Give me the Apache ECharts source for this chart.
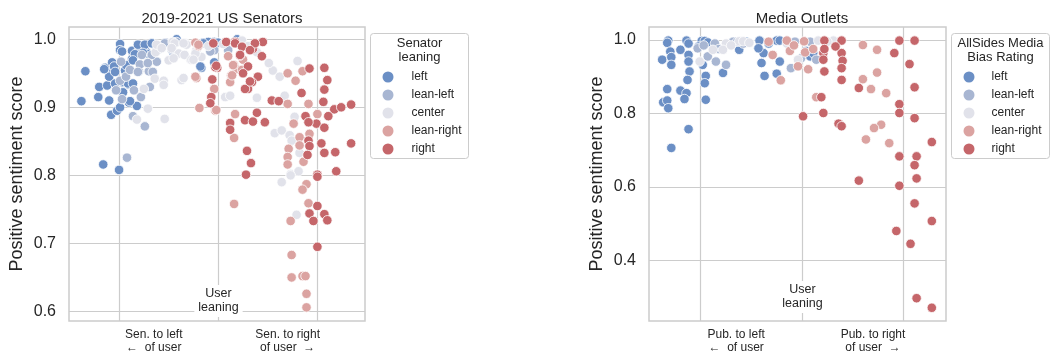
<!DOCTYPE html>
<html>
<head>
<meta charset="utf-8">
<script src="https://cdn.jsdelivr.net/npm/echarts@6/dist/echarts.min.js"></script>
<style>
  html, body { margin: 0; padding: 0; background: #fff; }
  #chart { width: 1052px; height: 356px; }
</style>
</head>
<body>
<div id="chart"></div>
<script>
// categories (leaning) and their colours
const categories = ['left', 'lean-left', 'center', 'lean-right', 'right'];
const colors = ['#6b8fc5', '#a8b6d2', '#e1e2ea', '#dba3a1', '#c5666a'];

// x = leaning offset vs user (jittered), y = positive sentiment score
const senLeft = [[-1.34,0.953],[-1.38,0.909],[-1.21,0.915],[-1.20,0.930],[-1.12,0.932],[-1.10,0.910],[-1.08,0.889],
  [-1.02,0.895],[-0.99,0.900],[-1.14,0.958],[-1.07,0.966],[-1.06,0.952],[-0.99,0.993],[-0.99,0.984],[-0.87,0.983],
  [-0.87,0.971],[-0.94,0.954],[-0.97,0.937],[-0.90,0.933],[-0.96,0.922],[-0.90,0.907],[-0.82,0.902],[-1.16,0.816],
  [-1.00,0.808],[-0.79,0.991],[-0.73,0.991],[-0.80,0.984],[-0.71,0.979],[-0.72,0.992],[-0.77,0.989],[-0.80,0.982],
  [-0.66,0.993],[-0.62,0.984],[-0.45,0.979],[-0.42,1.000],[-0.17,0.958],[-0.15,0.995],[-0.10,0.996],[-0.04,0.996],
  [-0.01,0.995],[-0.18,0.960],[-0.04,0.966],[0.19,1.000],[-1.04,0.935],[-0.93,0.962],[-1.10,0.945],[-0.84,0.978],
  [-0.06,0.992],[-1.15,0.956],[-1.05,0.960],[-0.89,0.935],[-0.89,0.909],[-0.81,0.992],[-0.74,0.992],[-0.67,0.994],
  [-0.86,0.969],[-0.76,0.980],[-0.97,0.982],[-0.15,0.994],[0.00,0.995],[-0.91,0.935],[-0.86,0.935],[-1.04,0.952]];
const senLeanLeft = [[-0.92,0.826],[-0.74,0.872],[-0.86,0.887],[-0.97,0.912],[-0.78,0.915],[-0.69,0.930],[-0.70,0.953],
  [-0.80,0.953],[-0.99,0.939],[-0.98,0.967],[-0.79,0.963],[-0.53,0.995],[-0.54,0.994],[-0.62,0.967],[-0.66,0.952],
  [-0.04,0.984],[0.10,0.984],[-0.93,0.945],[-0.85,0.925],[-0.60,0.985],[-1.03,0.925],[-0.47,0.985],[-0.77,0.977],
  [-0.67,0.977],[-0.42,0.996],[-0.08,0.982],[-0.89,0.955],[-0.81,0.952],[-0.71,0.965]];
const senCenter = [[-0.54,0.883],[-0.82,0.882],[-0.71,0.898],[-0.64,0.942],[-0.55,0.939],[-0.37,0.940],[-0.50,0.969],
  [-0.63,0.981],[-0.46,0.996],[-0.33,0.994],[-0.28,0.970],[-0.17,0.974],[-0.40,0.979],[-0.75,0.927],[-0.55,0.933],
  [-0.44,0.994],[-0.32,0.992],[-0.34,0.977],[-0.22,0.984],[-0.27,0.970],[0.24,0.998],[0.07,0.915],[0.12,0.917],
  [0.39,0.914],[0.55,0.954],[0.62,0.945],[0.51,0.965],[0.80,0.968],[0.57,0.862],[0.64,0.866],[0.72,0.859],
  [0.77,0.886],[0.74,0.851],[0.82,0.833],[0.39,0.981],[0.67,0.917],[0.73,0.802],[0.81,0.806],[0.64,0.790],
  [0.73,0.800],[0.79,0.742],[-0.10,0.990],[0.05,0.993],[0.30,0.990],[-0.62,0.992],[-0.57,0.987],[-0.47,0.987],
  [-0.35,0.994],[-0.23,0.979],[-0.45,0.972],[-0.25,0.970],[-0.35,0.943]];
const senLeanRight = [[-0.22,0.943],[-0.19,0.899],[-0.04,0.927],[-0.03,0.895],[-0.23,0.995],[0.16,0.962],[0.13,0.947],
  [0.12,0.937],[0.18,0.956],[-0.02,0.896],[0.17,0.890],[0.16,0.855],[0.70,0.950],[0.78,0.939],[0.85,0.953],
  [0.70,0.905],[0.91,0.905],[0.76,0.876],[0.82,0.856],[1.00,0.890],[0.92,0.861],[0.71,0.839],[0.82,0.844],
  [0.70,0.827],[0.70,0.816],[0.86,0.820],[0.89,0.787],[0.85,0.779],[0.16,0.758],[0.91,0.759],[0.73,0.733],
  [0.74,0.683],[0.74,0.650],[0.85,0.652],[0.88,0.652],[0.89,0.626],[0.89,0.606],[-0.20,0.990],[0.10,0.975],[0.25,0.970],
  [-0.20,0.992],[0.15,0.962],[0.24,0.955],[0.14,0.947],[-0.23,0.945]];
const senRight = [[0.45,0.996],[0.35,0.986],[0.17,0.996],[0.22,0.976],[0.44,0.975],[-0.01,0.958],[-0.06,0.941],
  [-0.07,0.915],[-0.08,0.906],[-0.03,0.959],[0.40,0.945],[0.34,0.937],[0.30,0.927],[0.27,0.927],[0.54,0.910],
  [0.61,0.909],[0.92,0.957],[1.07,0.958],[1.10,0.940],[1.07,0.926],[1.06,0.908],[0.84,0.921],[1.17,0.897],
  [1.24,0.900],[1.34,0.904],[1.11,0.887],[0.88,0.887],[0.99,0.876],[0.91,0.878],[1.07,0.870],[0.12,0.877],
  [0.12,0.867],[0.27,0.881],[0.35,0.879],[0.39,0.892],[0.47,0.878],[0.29,0.836],[0.33,0.818],[0.28,0.801],
  [0.91,0.851],[0.92,0.843],[0.90,0.830],[1.04,0.847],[1.07,0.833],[1.18,0.834],[1.34,0.847],[1.00,0.801],
  [1.19,0.806],[1.00,0.798],[1.00,0.755],[0.92,0.744],[1.07,0.743],[0.96,0.733],[1.10,0.734],[1.00,0.695],
  [0.08,0.996],[0.30,0.960],[0.25,0.950],[-0.05,0.994],[0.17,0.994],[0.24,0.989],[0.37,0.994],[0.22,0.977],
  [0.32,0.984],[-0.02,0.961],[0.32,0.938]];

const medLeft = [[-1.38,0.946],[-1.32,0.998],[-1.33,0.992],[-1.30,0.968],[-1.29,0.953],[-1.29,0.932],[-1.33,0.866],
  [-1.37,0.830],[-1.33,0.835],[-1.32,0.814],[-1.20,0.973],[-1.14,0.998],[-1.12,0.990],[-1.12,0.959],[-1.12,0.941],
  [-1.11,0.914],[-1.13,0.891],[-1.20,0.862],[-1.14,0.855],[-1.16,0.839],[-1.12,0.757],[-1.29,0.706],[-0.99,0.997],
  [-0.96,0.997],[-0.93,0.993],[-1.02,0.982],[-0.98,0.932],[-0.95,0.902],[-0.96,0.882],[-0.95,0.837],[-0.78,0.910],
  [-0.62,0.973],[-0.55,0.995],[-0.42,0.998],[-0.25,0.998],[-0.22,0.998],[-0.40,0.937],[-0.37,0.902],[-0.25,0.908],
  [-0.38,0.964],[-0.22,0.941],[-0.43,0.977],[0.08,0.955],[0.11,0.964],[0.04,0.970],[-0.33,0.990]];
const medLeanLeft = [[-1.03,0.977],[-0.93,0.955],[-0.85,0.941],[-0.75,0.932],[-0.86,0.990],[-0.82,0.975],[-0.68,0.995],
  [-0.64,0.995],[-0.07,0.995],[0.08,0.995],[-0.11,0.923],[-0.01,0.950],[0.14,0.946],[-0.97,0.985],[-0.58,0.990]];
const medCenter = [[-0.75,0.990],[-0.62,0.996],[-0.58,0.996],[-0.52,0.992],[-1.01,0.941],[-0.88,0.973],[-0.78,0.973],
  [0.16,0.998],[0.31,0.998],[-0.04,0.946],[-0.70,0.985],[0.25,0.995],[-0.15,0.990]];
const medLeanRight = [[-0.33,0.995],[-0.15,0.998],[-0.29,0.959],[-0.12,0.970],[-0.21,0.890],[0.03,0.966],[-0.04,0.928],
  [0.06,0.920],[0.11,0.975],[0.14,0.844],[0.60,0.986],[0.74,0.973],[0.60,0.893],[0.68,0.866],[0.74,0.911],
  [0.83,0.855],[0.78,0.769],[0.71,0.760],[0.63,0.729],[0.86,0.719],[0.02,0.996],[-0.08,0.985]];
const medRight = [[0.22,0.998],[0.39,0.998],[0.21,0.964],[0.21,0.946],[0.22,0.914],[0.39,0.964],[0.40,0.943],
  [0.39,0.923],[0.39,0.891],[0.33,0.982],[0.19,0.844],[0.21,0.801],[0.01,0.792],[0.36,0.772],[0.39,0.765],
  [0.56,0.869],[0.96,0.998],[1.11,0.998],[0.91,0.964],[1.06,0.934],[1.11,0.871],[0.96,0.825],[0.96,0.801],
  [1.11,0.787],[1.28,0.722],[0.96,0.683],[1.13,0.683],[1.11,0.659],[1.13,0.623],[0.56,0.617],[0.96,0.603],
  [1.11,0.555],[1.28,0.507],[0.93,0.480],[1.07,0.445],[1.13,0.297],[1.28,0.271],[0.22,0.975]];

// tick labels
const senTickLabels = ['Sen. to left\n\u2190  of user', 'Sen. to right\nof user  \u2192'];
const medTickLabels = ['Pub. to left\n\u2190  of user', 'Pub. to right\nof user  \u2192'];
const senYTicks = [0.6, 0.7, 0.8, 0.9, 1.0];
const medYTicks = [0.4, 0.6, 0.8, 1.0];

const senData = [senLeft, senLeanLeft, senCenter, senLeanRight, senRight];
const medData = [medLeft, medLeanLeft, medCenter, medLeanRight, medRight];

const FONT = '"Liberation Sans", Arial, sans-serif';
const TXT = '#262626';
const GRIDC = '#cccccc';

function xAxis(gridIndex, min, max, labels) {
  return {
    type: 'value', gridIndex, min, max,
    axisLine: { show: false },
    axisTick: { show: false, customValues: [-1, 0, 1] },
    splitLine: { show: true, lineStyle: { color: GRIDC, width: 1.2 } },
    axisLabel: {
      customValues: [-0.65, 0.7],
      formatter: v => (v < 0 ? labels[0] : labels[1]),
      fontFamily: FONT, fontSize: 12, color: TXT, lineHeight: 13, margin: 7
    }
  };
}
function yAxis(gridIndex, min, max, ticks) {
  return {
    type: 'value', gridIndex, min, max,
    name: 'Positive sentiment score', nameLocation: 'middle', nameGap: 43,
    nameTextStyle: { fontFamily: FONT, fontSize: 18, color: TXT },
    axisLine: { show: false },
    axisTick: { show: false, customValues: ticks },
    splitLine: { show: true, lineStyle: { color: GRIDC, width: 1.2 } },
    axisLabel: {
      customValues: ticks, formatter: v => v.toFixed(1),
      fontFamily: FONT, fontSize: 16, color: TXT, margin: 13
    }
  };
}

const series = [];
[senData, medData].forEach((panel, p) => {
  panel.forEach((pts, i) => {
    series.push({
      type: 'scatter', name: categories[i], xAxisIndex: p, yAxisIndex: p,
      data: pts, symbolSize: 9.5,
      itemStyle: { color: colors[i], borderColor: '#fff', borderWidth: 0.8, opacity: 1 },
      emphasis: { disabled: true }
    });
  });
});

function legend(left, textPad) {
  return {
    data: categories, orient: 'vertical', left, top: 71, padding: 0,
    icon: 'circle', itemWidth: 11, itemHeight: 11, itemGap: 6,
    itemStyle: { borderWidth: 0 },
    textStyle: { fontFamily: FONT, fontSize: 12, color: TXT, padding: [0, 0, 0, textPad] },
    selectedMode: false
  };
}
function userLabel(x, y) {
  return {
    type: 'text', x, y, z: 100,
    style: {
      text: 'User\nleaning', font: '12.5px ' + FONT, fill: TXT, align: 'center',
      verticalAlign: 'middle', lineHeight: 14, backgroundColor: '#fff', padding: [2, 4]
    }
  };
}

const option = {
  animation: false,
  backgroundColor: '#fff',
  title: [
    { text: '2019-2021 US Senators', left: 217, top: 6, textAlign: 'center',
      textStyle: { fontFamily: FONT, fontSize: 15, fontWeight: 'normal', color: TXT } },
    { text: 'Media Outlets', left: 797, top: 6, textAlign: 'center',
      textStyle: { fontFamily: FONT, fontSize: 15, fontWeight: 'normal', color: TXT } }
  ],
  grid: [
    { left: 69, top: 27, width: 296, height: 294, show: true, borderColor: GRIDC, borderWidth: 1.5, backgroundColor: '#fff' },
    { left: 649, top: 27, width: 297, height: 294, show: true, borderColor: GRIDC, borderWidth: 1.5, backgroundColor: '#fff' }
  ],
  xAxis: [xAxis(0, -1.505, 1.48, senTickLabels), xAxis(1, -1.51, 1.42, medTickLabels)],
  yAxis: [yAxis(0, 0.586, 1.018, senYTicks), yAxis(1, 0.235, 1.035, medYTicks)],
  legend: [legend(382.5, 13), legend(963.5, 12)],
  graphic: [
    { type: 'rect', shape: { x: 370.5, y: 33.5, width: 98, height: 125, r: 3 }, z: 1,
      style: { fill: '#fff', stroke: GRIDC, lineWidth: 1 } },
    { type: 'rect', shape: { x: 951.5, y: 33.5, width: 98, height: 125, r: 3 }, z: 1,
      style: { fill: '#fff', stroke: GRIDC, lineWidth: 1 } },
    { type: 'text', x: 419.5, y: 50, z: 2,
      style: { text: 'Senator\nleaning', font: '13px ' + FONT, fill: TXT, align: 'center', verticalAlign: 'middle', lineHeight: 14 } },
    { type: 'text', x: 1000.5, y: 50, z: 2,
      style: { text: 'AllSides Media\nBias Rating', font: '13px ' + FONT, fill: TXT, align: 'center', verticalAlign: 'middle', lineHeight: 14 } },
    userLabel(218.5, 301),
    userLabel(802.5, 297)
  ],
  series
};

const chart = echarts.init(document.getElementById('chart'), null, { renderer: 'canvas' });
chart.setOption(option);
</script>
</body>
</html>
